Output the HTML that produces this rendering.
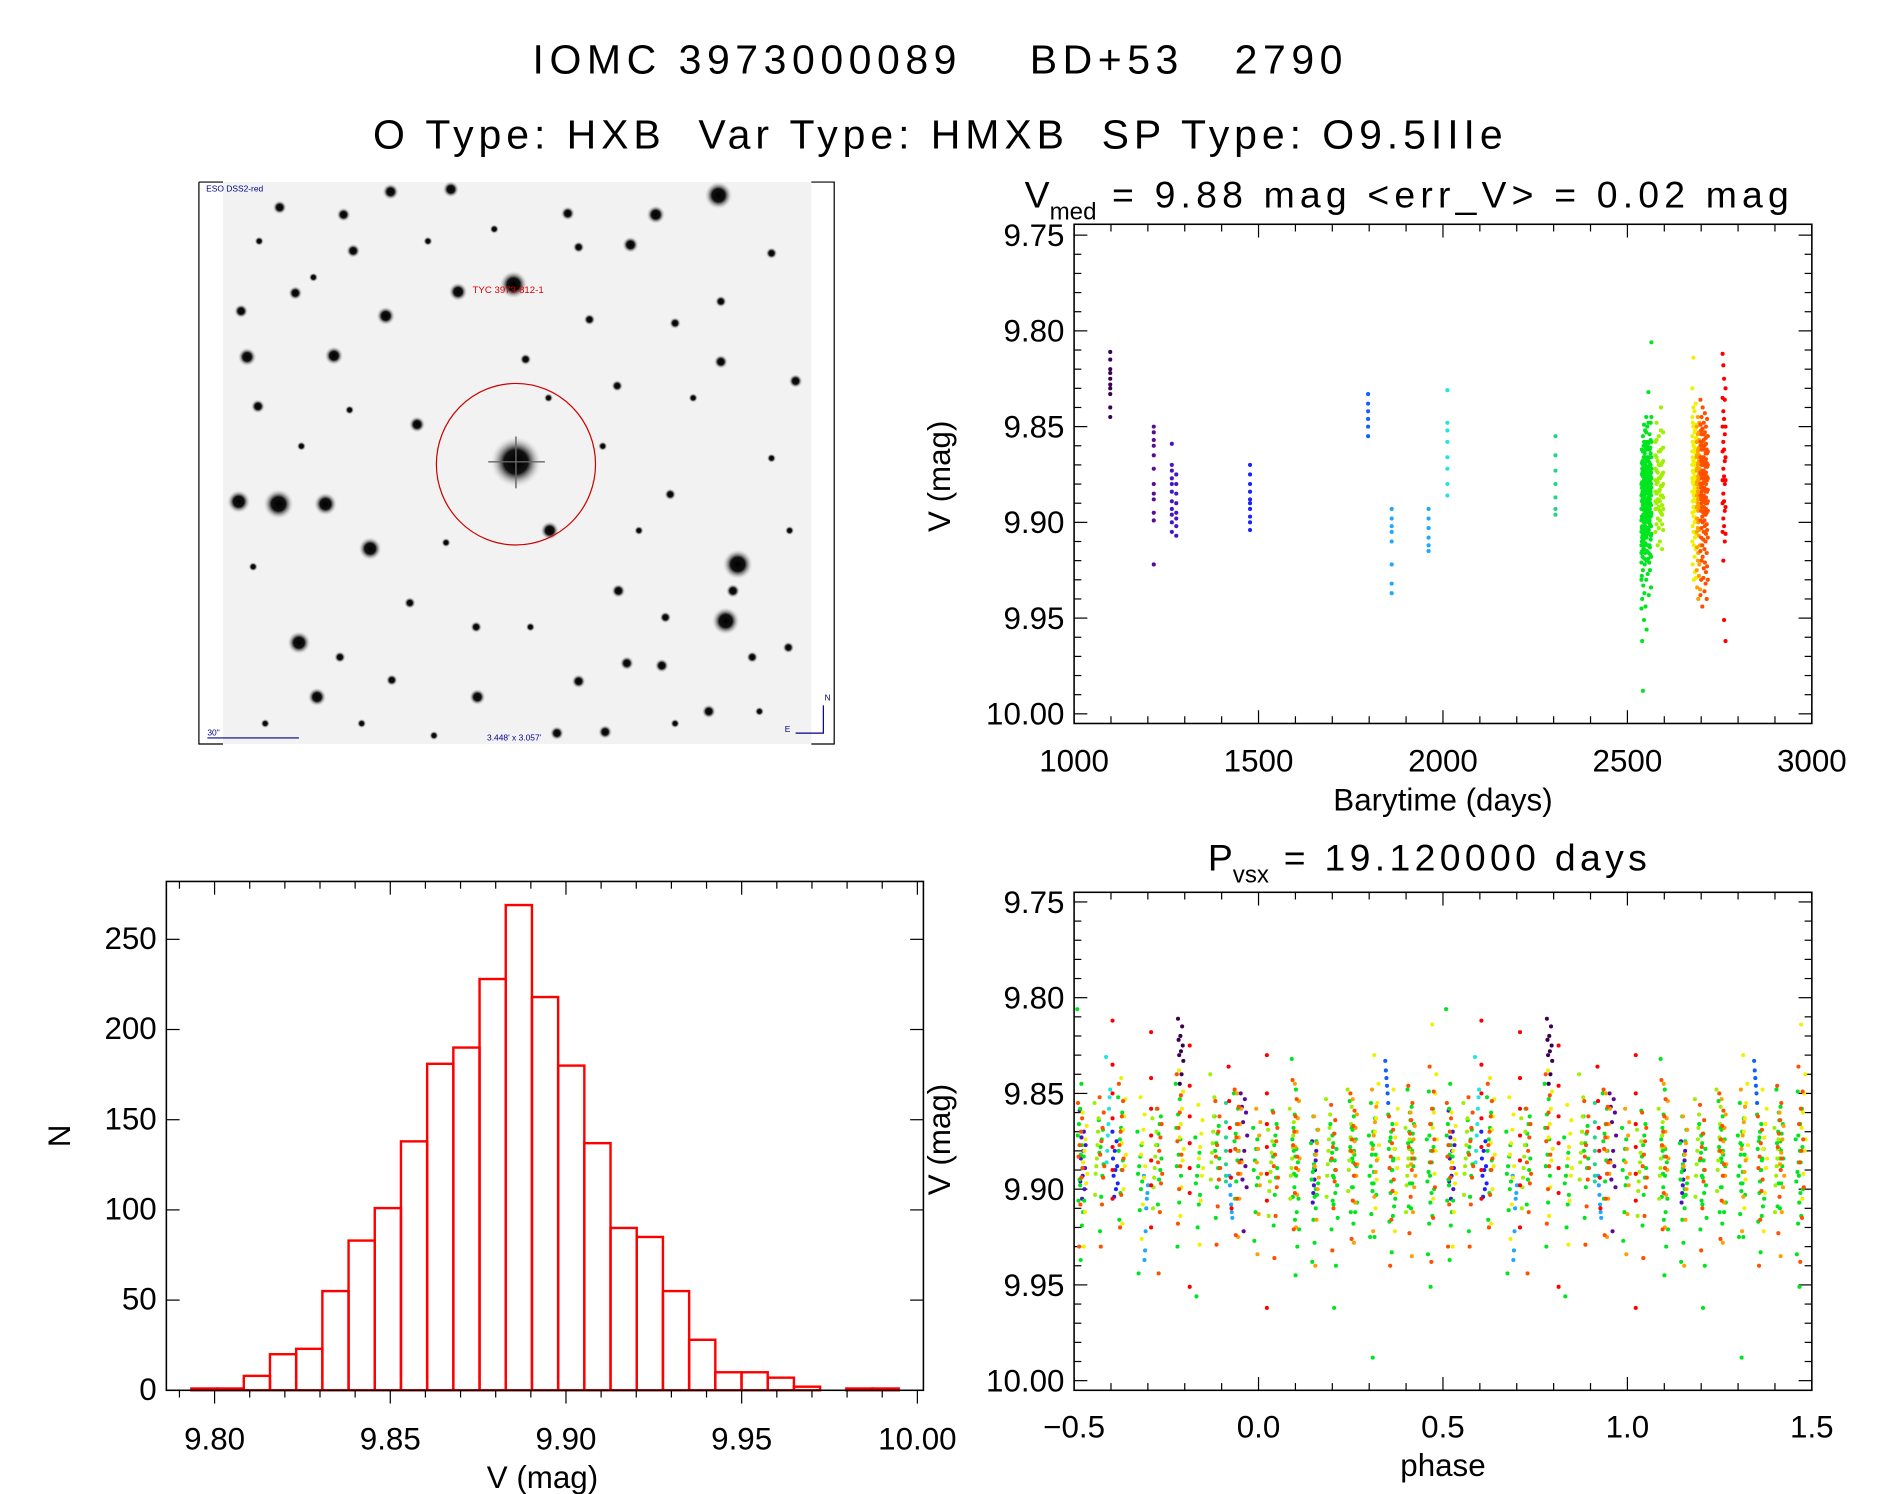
<!DOCTYPE html>
<html><head><meta charset="utf-8"><style>
html,body{margin:0;padding:0;background:#fff;}
svg{display:block;}
text{font-family:"Liberation Sans",sans-serif;fill:#000;}
</style></head><body>
<svg id="fig" width="1889" height="1494" viewBox="0 0 1567 1239" preserveAspectRatio="none" xmlns="http://www.w3.org/2000/svg">
<defs>
<radialGradient id="starg"><stop offset="0" stop-color="#000"/><stop offset="0.45" stop-color="#111"/><stop offset="1" stop-color="#fff" stop-opacity="0"/></radialGradient>
</defs>
<rect x="0" y="0" width="1567" height="1239" fill="#fff"/>
<text x="780" y="61" font-size="34" text-anchor="middle" letter-spacing="4.6" xml:space="preserve">IOMC 3973000089    BD+53   2790</text>
<text x="780" y="123" font-size="34" text-anchor="middle" letter-spacing="4.1" xml:space="preserve">O Type: HXB  Var Type: HMXB  SP Type: O9.5IIIe</text>
<g id="sky"></g>
<g id="lc"></g>
<g id="hist"></g>
<g id="ph"></g>
</svg>
<script>
// ---------- data ----------
const histBinStart = 9.7934;
const histBinWidth = 0.007455;
const histCounts = [1,1,8,20,23,55,83,101,138,181,190,228,269,218,180,137,90,85,55,28,10,10,7,2,0,1,1];
const histXTicks = [9.80,9.85,9.90,9.95,10.00];
const histXTickLabels = ["9.80","9.85","9.90","9.95","10.00"];
const histYTicks = [0,50,100,150,200,250];

const lcXTicks = [1000,1500,2000,2500,3000];
const magTicks = [9.75,9.80,9.85,9.90,9.95,10.00];
const magTickLabels = ["9.75","9.80","9.85","9.90","9.95","10.00"];
const phaseTicks = [-0.5,0,0.5,1,1.5];
const phaseTickLabels = ["\u22120.5","0.0","0.5","1.0","1.5"];
const period = 19.12;
const epoch = 1082.9;

// nights: time (days) and magnitudes (in milli-mag above 9.000)
const nightTime = [1098,1216,1265,1277,1477,1797,1861,1961,2012,2305,
2538,2539,2540,2541,2542,2543,2544,2545,2546,2547,2548,2549,2550,2551,2552,2553,2554,2555,2556,2557,2558,2559,2560,2561,2562,2563,2564,2565,
2576,2579,2582,2585,2588,2591,2594,2597,
2676,2677,2679,2680,2682,2683,2685,2686,
2688,2689,2691,2692,2694,2695,2697,
2698,2700,2701,2703,2704,2706,2707,2709,2710,2712,2713,2715,2716,2718,
2758,2760,2762,2764,2766];
const nightMags = [
[811,815,820,822,825,828,830,833,840,845],
[850,853,857,860,865,872,880,885,888,895,899,922],
[859,870,873,877,880,884,889,893,896,900,905],
[875,880,885,890,895,898,902,907],
[870,875,880,884,888,890,893,897,900,904],
[833,838,842,846,850,855],
[893,898,902,905,910,922,932,937],
[893,898,903,908,912,915],
[831,848,852,858,866,872,880,886],
[855,865,873,880,887,893,896],
[880,886,893,899,905,912,916,921,930,945],
[862,869,875,882,889,897,903,910,928],
[872,879,885,893,898,902,908,915,940,962],
[868,874,880,884,888,893,899,907,912,918],
[855,863,870,876,882,891,897,903,925,988],
[873,879,884,890,896,905,909,914,933],
[860,866,871,875,879,884,888,897,910],
[849,858,866,872,878,886,893,900,914,951],
[877,883,889,894,898,906,912,919,937],
[864,869,874,878,881,887,893,904,922],
[852,860,868,874,880,885,890,902,916],
[870,877,883,888,892,896,900,911,944],
[858,862,866,871,877,884,890,895,908],
[845,853,861,868,874,882,888,893,907,930],
[873,881,888,893,897,903,908,920,956],
[862,867,871,876,880,884,889,899,915],
[850,858,866,871,875,880,885,896,905],
[868,874,879,885,890,894,898,912,927],
[859,866,872,877,883,889,894,903,919],
[832,848,861,868,874,879,883,892,904],
[876,882,887,891,895,900,904,916,938],
[866,871,876,881,885,890,894,906,921],
[854,862,869,874,878,882,886,899,912],
[872,877,882,888,893,897,901,913,925],
[861,866,870,875,879,885,890,902,917],
[848,857,864,870,876,880,884,897,909],
[874,880,886,891,896,902,907,918,934],
[806,845,858,866,872,877,882,895,906],
[858,865,872,878,884,889,893,905],
[848,857,866,873,880,885,890,901],
[868,874,879,884,888,893,898,912],
[855,863,870,877,884,888,892,903],
[863,870,877,883,889,894,899,910],
[840,852,862,870,876,881,886,895],
[869,875,881,886,891,896,901,914],
[853,861,868,874,880,887,893,904],
[830,845,855,863,870,877,884,895,910],
[848,858,866,873,879,884,889,902,922],
[814,840,850,860,868,874,880,892,905],
[860,867,874,880,886,892,897,912,930],
[842,853,862,869,876,882,888,900,918],
[852,861,869,876,882,888,894,908,926],
[838,849,858,866,873,879,885,899,914],
[856,864,871,878,884,889,893,906,929],
[850,858,866,873,880,886,892,905,925],
[858,865,872,879,886,892,898,913,934],
[845,854,863,870,878,884,890,903,920],
[862,869,876,882,888,894,900,916,940],
[853,861,868,875,881,887,893,907,928],
[848,857,865,872,879,885,891,904,922],
[860,867,874,881,887,893,899,912,935],
[836,849,858,866,874,880,886,899,915,938],
[852,860,868,875,882,888,894,908,930],
[845,854,862,870,877,884,890,903,920],
[858,866,873,880,886,892,897,912,944],
[840,851,860,868,875,882,888,900,918],
[854,862,870,877,883,889,895,909,929],
[848,857,866,873,879,886,892,905,924],
[860,868,875,882,888,894,899,914,936],
[843,853,862,870,877,883,889,902,921],
[856,864,871,878,884,890,896,910,932],
[850,859,867,874,880,887,893,906,926],
[862,869,876,883,889,895,901,916,940],
[846,855,864,871,878,884,890,904,923],
[855,863,870,877,883,889,894,908,930],
[812,835,850,863,878,890,905],
[818,842,858,872,885,898,920],
[825,846,862,876,889,902,951],
[836,854,868,880,894,910],
[830,850,866,878,892,906,962]
];

const stars = [[428,383,22],[596,162,12],[426,236,12],[380,242,8],[231,418,13],[270,418,10],[198,416,10],[307,455,10],[612,468,13],[602,515,12],[248,533,10],[320,262,8],[205,296,8],[277,295,8],[544,178,8],[456,440,8],[346,352,7],[263,578,8],[396,578,7],[324,159,7],[374,157,7],[232,172,6],[285,178,6],[471,177,6],[523,203,7],[660,316,6],[598,300,6],[513,490,6],[520,550,6],[608,490,6],[480,565,6],[200,258,6],[214,337,6],[549,552,6],[588,590,6],[436,298,5],[489,265,5],[556,410,5],[624,545,5],[552,512,5],[282,545,5],[325,564,5],[462,608,6],[502,607,6],[654,537,5],[640,210,5],[293,208,6],[245,243,6],[598,250,5],[512,320,5],[560,268,5],[480,205,5],[340,500,5],[395,520,5],[215,200,4],[260,230,4],[355,200,4],[410,190,4],[455,330,4],[500,370,4],[530,440,4],[575,330,4],[640,380,4],[655,440,4],[630,590,4],[560,600,4],[440,520,4],[360,610,4],[300,600,4],[220,600,4],[210,470,4],[250,370,4],[290,340,4],[370,450,4]];

// ---------- helpers ----------
const NS = "http://www.w3.org/2000/svg";
function mk(tag, attrs, parent){ const e=document.createElementNS(NS,tag); for(const k in attrs) e.setAttribute(k,attrs[k]); parent.appendChild(e); return e; }
function colorFor(t){
  if(t<1150) return "#3c0050"; if(t<1240) return "#5a0a96"; if(t<1300) return "#4614c8";
  if(t<1600) return "#1a24ff"; if(t<1830) return "#1060ff"; if(t<2000) return "#1ea8ff";
  if(t<2100) return "#20e6e0"; if(t<2400) return "#20d68a"; if(t<2570) return "#00e61e";
  if(t<2650) return "#9ef000"; if(t<2687) return "#f0f000"; if(t<2697.5) return "#ffa000";
  if(t<2740) return "#ff5000"; return "#ff0000";
}

// ---------- sky image ----------
(function(){
  const g=document.getElementById('sky');
  const bg=mk('rect',{x:185,y:151,width:488,height:466,fill:"#f2f2f2"},g);
  
  
  stars.forEach(s=>{ const c=mk('circle',{cx:s[0],cy:s[1],r:s[2],fill:"url(#starg)"},g);
    
     });
  mk('line',{x1:428,y1:362,x2:428,y2:405,stroke:"#666",'stroke-width':1.2},g);
  mk('line',{x1:405,y1:383,x2:452,y2:383,stroke:"#666",'stroke-width':1.2},g);
  const ring=mk('ellipse',{cx:428,cy:385,rx:66,ry:67,fill:"none",stroke:"#c00",'stroke-width':1},g);
  
  
  mk('path',{d:"M165 151 H185 M165 151 V617 H185 M673 151 H692 V617 H673",fill:"none",stroke:"#000",'stroke-width':1},g);
  const t1=mk('text',{x:171,y:159,'font-size':7},g); t1.textContent="ESO DSS2-red"; t1.style.fill="#00008b";
   
  const t2=mk('text',{x:392,y:243,'font-size':8},g); t2.textContent="TYC 3973-812-1"; t2.style.fill="#d00";
   
  const t3=mk('text',{x:172,y:610,'font-size':7},g); t3.textContent="30\""; t3.style.fill="#00008b";
   
  mk('line',{x1:172,y1:612,x2:248,y2:612,stroke:"#00008b",'stroke-width':1},g);
  const t4=mk('text',{x:404,y:614,'font-size':7},g); t4.textContent="3.448' x 3.057'"; t4.style.fill="#00008b";
   
  mk('path',{d:"M660 608 H683 V585",fill:"none",stroke:"#00008b",'stroke-width':1},g);
  const t5=mk('text',{x:684,y:581,'font-size':7},g); t5.textContent="N"; t5.style.fill="#00008b";
   
  const t6=mk('text',{x:651,y:607,'font-size':7},g); t6.textContent="E"; t6.style.fill="#00008b";
   
})();

// ---------- generic axes ----------
function frame(g,L,R,T,B){ mk('rect',{x:L,y:T,width:R-L,height:B-T,fill:"none",stroke:"#000",'stroke-width':1.3},g); }
function magAxis(g,sy,L,R){
  for(let k=0;k<=25;k++){ const v=9.75+k*0.01; const y=sy(v); const major=(k%5===0); const len=major?11:6;
    mk('line',{x1:L,y1:y,x2:L+len,y2:y,stroke:"#000",'stroke-width':1},g);
    mk('line',{x1:R,y1:y,x2:R-len,y2:y,stroke:"#000",'stroke-width':1},g); }
  magTicks.forEach((v,i)=>{ const t=mk('text',{x:L-8,y:sy(v)+9,'font-size':26,'text-anchor':'end'},g); t.textContent=magTickLabels[i];
      });
}

// ---------- light curve ----------
(function(){
  const g=document.getElementById('lc');
  const L=891,R=1503,T=186,B=600;
  const sx=v=>L+(v-1000)/2000*(R-L);
  const sy=m=>195+(m-9.75)/0.25*(592-195);
  frame(g,L,R,T,B);
  magAxis(g,sy,L,R);
  for(let v=1000;v<=3000;v+=100){ const x=sx(v); const len=(v%500===0)?11:6;
    mk('line',{x1:x,y1:B,x2:x,y2:B-len,stroke:"#000",'stroke-width':1},g);
    mk('line',{x1:x,y1:T,x2:x,y2:T+len,stroke:"#000",'stroke-width':1},g); }
  lcXTicks.forEach(v=>{ const t=mk('text',{x:sx(v),y:640,'font-size':26,'text-anchor':'middle'},g); t.textContent=String(v);
      });
  const xl=mk('text',{x:1197,y:672,'font-size':26,'text-anchor':'middle'},g); xl.textContent="Barytime (days)";
   
  const yl=mk('text',{x:788,y:395,'font-size':26,'text-anchor':'middle',transform:"rotate(-90 788 395)"},g); yl.textContent="V (mag)";
   
  const tt=mk('text',{x:850,y:172,'font-size':31},g);
  tt.setAttribute('xml:space','preserve');
  tt.innerHTML='V<tspan font-size="20" dy="10">med</tspan><tspan dy="-10" letter-spacing="4.3"> = 9.88 mag &lt;err_V&gt; = 0.02 mag</tspan>';
   
  nightTime.forEach((t,i)=>{ const c=colorFor(t);
    nightMags[i].forEach(mm=>{ const d=mk('circle',{cx:sx(t),cy:sy(9+mm/1000),r:1.7,fill:c},g);
      
       }); });
})();

// ---------- phase plot ----------
(function(){
  const g=document.getElementById('ph');
  const L=891,R=1503,T=740,B=1153;
  const sx=p=>L+(p+0.5)/2*(R-L);
  const sy=m=>748+(m-9.75)/0.25*(1145-748);
  frame(g,L,R,T,B);
  magAxis(g,sy,L,R);
  for(let k=0;k<=20;k++){ const p=-0.5+k*0.1; const x=sx(p); const len=(k%5===0)?11:6;
    mk('line',{x1:x,y1:B,x2:x,y2:B-len,stroke:"#000",'stroke-width':1},g);
    mk('line',{x1:x,y1:T,x2:x,y2:T+len,stroke:"#000",'stroke-width':1},g); }
  phaseTicks.forEach((v,i)=>{ const t=mk('text',{x:sx(v),y:1192,'font-size':26,'text-anchor':'middle'},g); t.textContent=phaseTickLabels[i];
      });
  const xl=mk('text',{x:1197,y:1224,'font-size':26,'text-anchor':'middle'},g); xl.textContent="phase";
   
  const yl=mk('text',{x:788,y:945,'font-size':26,'text-anchor':'middle',transform:"rotate(-90 788 945)"},g); yl.textContent="V (mag)";
   
  const tt=mk('text',{x:1002,y:722,'font-size':31},g);
  tt.setAttribute('xml:space','preserve');
  tt.innerHTML='P<tspan font-size="20" dy="10">vsx</tspan><tspan dy="-10" letter-spacing="3.6"> = 19.120000 days</tspan>';
   
  nightTime.forEach((t,i)=>{ const c=colorFor(t);
    let ph=((t-epoch)/period)%1; if(ph<0) ph+=1; if(ph>=0.5) ph-=1;
    const n=nightMags[i].length;
    nightMags[i].forEach((mm,j)=>{ const dp=((j*7)%n-n/2)*0.0016;
      [ph+dp,ph+dp+1].forEach(p=>{ const d=mk('circle',{cx:sx(p),cy:sy(9+mm/1000),r:1.7,fill:c},g);
        
         }); }); });
})();

// ---------- histogram ----------
(function(){
  const g=document.getElementById('hist');
  const L=138,R=766,T=731,B=1153;
  const sx=v=>178+(v-9.80)/0.20*(761-178);
  const sy=n=>B-n/250*(B-779);
  histCounts.forEach((n,i)=>{ const x0=sx(histBinStart+i*histBinWidth), x1=sx(histBinStart+(i+1)*histBinWidth);
    const r=mk('rect',{x:x0,y:sy(n),width:x1-x0,height:B-sy(n),fill:"none",stroke:"#f00",'stroke-width':2},g);
    
     });
  frame(g,L,R,T,B);
  for(let k=-1;k<=20;k++){ const v=9.80+k*0.01; const x=sx(v); if(x<L||x>R) continue; const major=(k%5===0);
    mk('line',{x1:x,y1:B,x2:x,y2:B+(major?11:6),stroke:"#000",'stroke-width':1},g);
    mk('line',{x1:x,y1:T,x2:x,y2:T+(major?11:6),stroke:"#000",'stroke-width':1},g); }
  histYTicks.forEach(n=>{ const y=sy(n);
    mk('line',{x1:L,y1:y,x2:L+11,y2:y,stroke:"#000",'stroke-width':1},g);
    mk('line',{x1:R,y1:y,x2:R-11,y2:y,stroke:"#000",'stroke-width':1},g);
    const t=mk('text',{x:130,y:y+8,'font-size':26,'text-anchor':'end'},g); t.textContent=String(n);
      });
  histXTicks.forEach((v,i)=>{ const t=mk('text',{x:sx(v),y:1202,'font-size':26,'text-anchor':'middle'},g); t.textContent=histXTickLabels[i];
      });
  const xl=mk('text',{x:450,y:1234,'font-size':26,'text-anchor':'middle'},g); xl.textContent="V (mag)";
   
  const yl=mk('text',{x:58,y:942,'font-size':26,'text-anchor':'middle',transform:"rotate(-90 58 942)"},g); yl.textContent="N";
   
})();
</script>
</body></html>
